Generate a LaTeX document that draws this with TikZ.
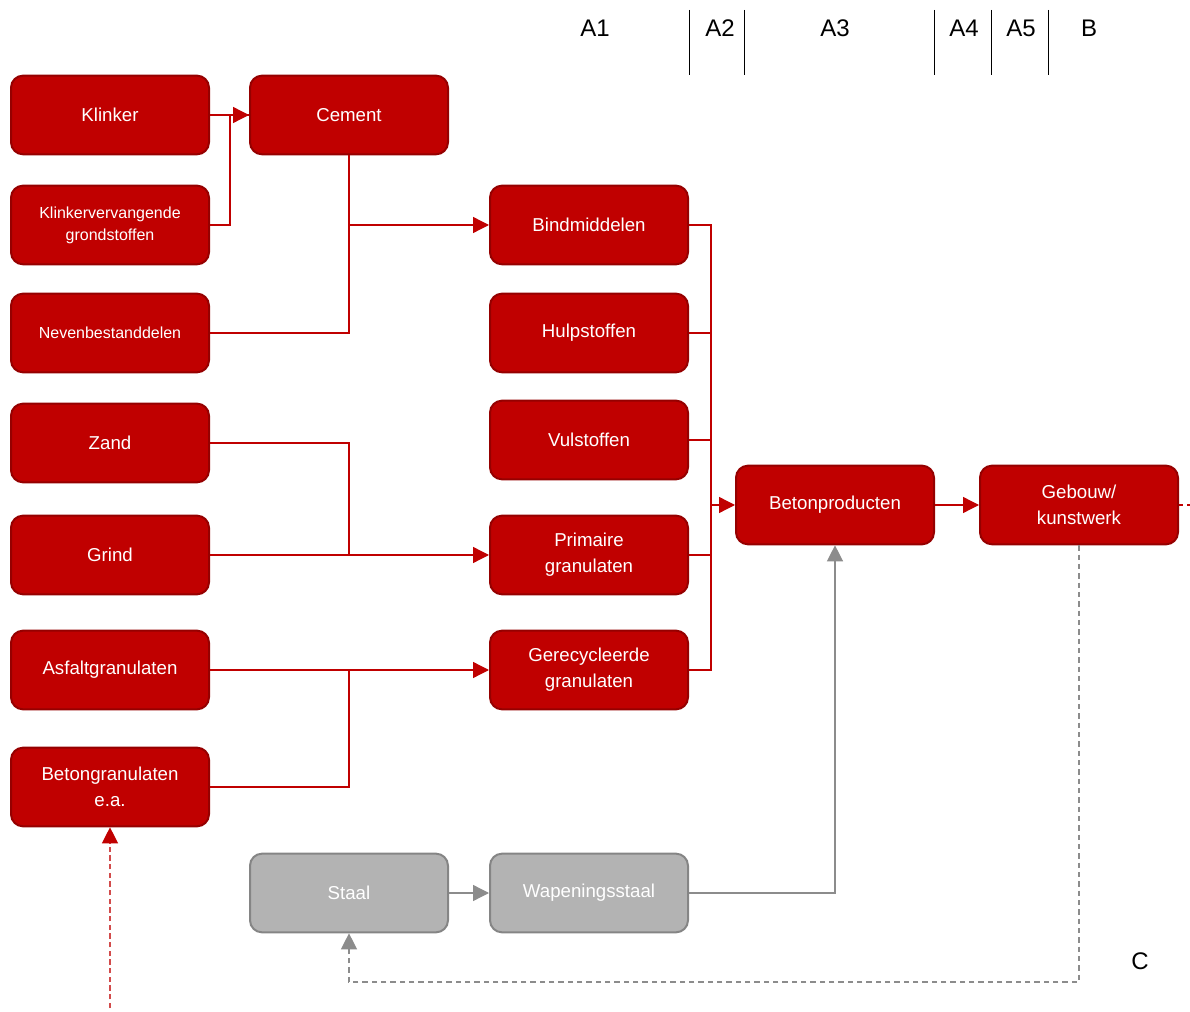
\documentclass[tikz,border=0pt]{standalone}
\usepackage{fontspec}
\setmainfont{Liberation Sans}
\usetikzlibrary{arrows.meta}
\definecolor{betonrood}{HTML}{C00000}
\definecolor{randrood}{HTML}{950000}
\definecolor{stippelrood}{HTML}{D24B4B}
\definecolor{staalgrijs}{HTML}{B3B3B3}
\definecolor{randgrijs}{HTML}{858585}
\definecolor{lijngrijs}{HTML}{8C8C8C}
\tikzset{>={Triangle[length=12pt,width=12pt]}}
\tikzstyle{blok}=[rectangle,draw=randrood,fill=betonrood,line width=1.5pt,minimum height=59pt,minimum width=148.5pt,rounded corners=9pt,text=white,align=center,font=\fontsize{14}{19.5}\selectfont]
\tikzstyle{blokklein}=[blok,font=\fontsize{12}{16.5}\selectfont]
\tikzstyle{staalblok}=[blok,draw=randgrijs,fill=staalgrijs]
\tikzstyle{kop}=[font=\fontsize{18}{22}\selectfont]
\tikzstyle{rood}=[draw=betonrood,line width=1pt]
\tikzstyle{grijs}=[draw=lijngrijs,line width=1pt]

\begin{document}
\begin{tikzpicture}[x=0.75pt,y=-0.75pt]
	\useasboundingbox (0,0) rectangle (1190,1012);
	
	\node[kop] (a1) at (595,28) {A1};
	\node[kop] (a2) at (720,28) {A2};
	\node[kop] (a3) at (835,28) {A3};
	\node[kop] (a4) at (964,28) {A4};
	\node[kop] (a5) at (1021,28) {A5};
	\node[kop] (b) at (1089,28) {B};
	\node[kop] (c) at (1140,961) {C};
	\foreach \x in {689,744,934,991,1048}
		\draw[line width=0.7pt] (\x,10) -- (\x,75);
	
	\node[blok] (klinker) at (110,115) {Klinker};
	\node[blokklein] (kvg) at (110,225) {Klinkervervangende\\grondstoffen};
	\node[blokklein] (neven) at (110,333) {Nevenbestanddelen};
	\node[blok] (zand) at (110,443) {Zand};
	\node[blok] (grind) at (110,555) {Grind};
	\node[blok] (asfalt) at (110,670) {Asfaltgranulaten};
	\node[blok] (betongr) at (110,787) {Betongranulaten\\e.a.};
	
	\node[blok] (cement) at (349,115) {Cement};
	\node[blok] (bind) at (589,225) {Bindmiddelen};
	\node[blok] (hulp) at (589,333) {Hulpstoffen};
	\node[blok] (vul) at (589,440) {Vulstoffen};
	\node[blok] (prim) at (589,555) {Primaire\\granulaten};
	\node[blok] (gerec) at (589,670) {Gerecycleerde\\granulaten};
	
	\node[blok] (beton) at (835,505) {Betonproducten};
	\node[blok] (gebouw) at (1079,505) {Gebouw/\\kunstwerk};
	
	\node[staalblok] (staal) at (349,893) {Staal};
	\node[staalblok] (wap) at (589,893) {Wapeningsstaal};
	
	\coordinate (samen) at (711,505);
	\coordinate (uit) at (1190,505);
	\coordinate (hoek) at (1079,982);
	\coordinate (bron) at (110,1008);
	
	\draw[rood,->] (klinker) -- (cement);
	\draw[rood] (kvg.east) -- ++(20,0) |- (cement.west);
	\draw[rood,->] (cement.south) |- (bind.west);
	\draw[rood] (neven.east) -| (cement.south |- bind.west);
	\draw[rood,->] (grind) -- (prim);
	\draw[rood] (zand.east) -| (cement.south |- prim.west);
	\draw[rood,->] (asfalt) -- (gerec);
	\draw[rood] (betongr.east) -| (cement.south |- gerec.west);
	\foreach \n in {bind,hulp,vul,prim,gerec}
		\draw[rood] (\n.east) -| (samen);
	\draw[rood,->] (samen) -- (beton);
	\draw[rood,->] (beton) -- (gebouw);
	\draw[rood,dashed] (gebouw) -- (uit);
	\draw[draw=stippelrood,line width=1pt,dash pattern=on 4pt off 2.5pt,-{Triangle[length=12pt,width=12pt,color=betonrood]}] (bron) -- (betongr.south);
	
	\draw[grijs,->] (staal) -- (wap);
	\draw[grijs,->] (wap.east) -| (beton.south);
	\draw[grijs,dash pattern=on 4pt off 3pt,->] (gebouw.south) -- (hoek) -| (staal.south);
\end{tikzpicture}
\end{document}
